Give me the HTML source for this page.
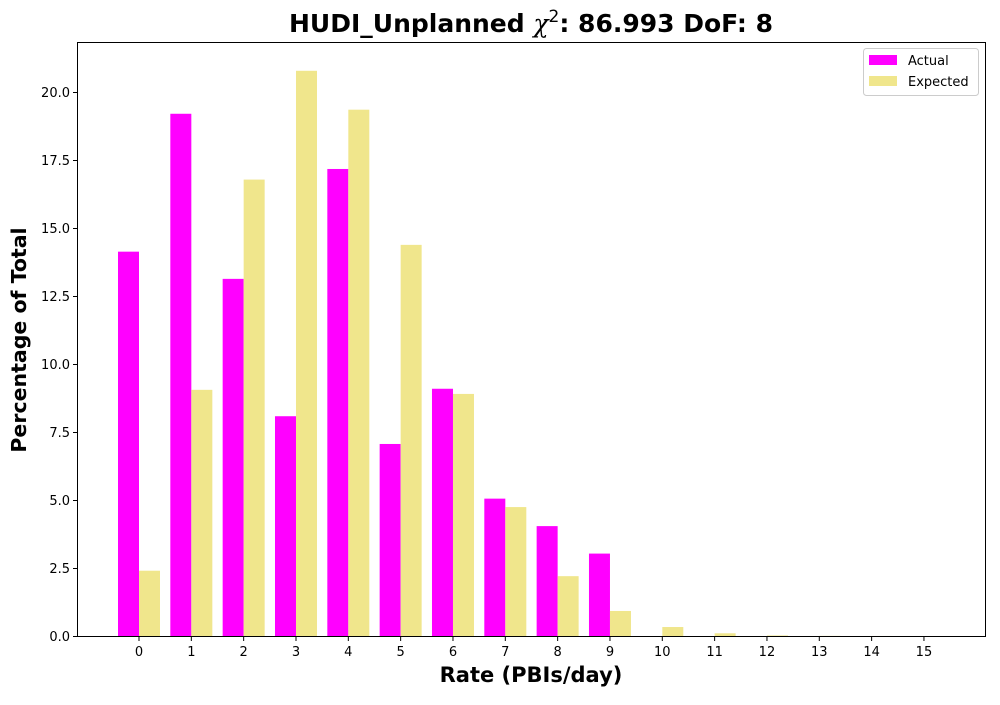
<!DOCTYPE html>
<html><head><meta charset="utf-8"><style>
body{margin:0;background:#fff;font-family:"Liberation Sans","DejaVu Sans",sans-serif;}
svg text{font-family:"DejaVu Sans","Liberation Sans",sans-serif;}
</style></head><body>
<svg id="chart" width="1000" height="700" xmlns="http://www.w3.org/2000/svg">
<text x="531" y="32" text-anchor="middle" font-size="25" font-weight="bold">HUDI_Unplanned <tspan font-style="italic" font-weight="normal" font-family="DejaVu Serif, serif">χ</tspan><tspan dy="-10" font-size="17" font-weight="normal">2</tspan><tspan dy="10">: 86.993 DoF: 8</tspan></text>
<g id="bars"></g>
<rect x="77.5" y="42.5" width="908" height="594" fill="none" stroke="#000" stroke-width="1"/>
<g id="axes"></g>
<text x="531" y="682" text-anchor="middle" font-size="21" font-weight="bold">Rate (PBIs/day)</text>
<text transform="translate(26,340) rotate(-90)" text-anchor="middle" font-size="20.5" font-weight="bold">Percentage of Total</text>
<g>
<rect x="863.5" y="48.5" width="115" height="47" rx="3" fill="#fff" stroke="#ccc"/>
<rect x="869" y="55" width="28" height="10" fill="#ff00ff"/>
<text x="908" y="65" font-size="13">Actual</text>
<rect x="869" y="76" width="28" height="10" fill="#f0e68c"/>
<text x="908" y="86" font-size="13">Expected</text>
</g>
</svg>
<script>
const categories=[0,1,2,3,4,5,6,7,8,9,10,11,12,13,14,15];
const actualValues=[14.13,19.2,13.13,8.08,17.17,7.06,9.09,5.05,4.04,3.03,0,0,0,0,0,0];
const expectedValues=[2.4,9.05,16.78,20.78,19.35,14.38,8.9,4.74,2.2,0.92,0.33,0.1,0.02,0.005,0.001,0];
const yTicks=[0,2.5,5,7.5,10,12.5,15,17.5,20];
const yTickLabels=["0.0","2.5","5.0","7.5","10.0","12.5","15.0","17.5","20.0"];
const ns="http://www.w3.org/2000/svg";
function xScale(c){return 139+c*52.33;}
function yScale(v){return 636-v*27.2;}
const bw=21;
const bars=document.getElementById('bars');
const axes=document.getElementById('axes');
function mk(tag,attrs,parent){const e=document.createElementNS(ns,tag);for(const k in attrs)e.setAttribute(k,attrs[k]);parent.appendChild(e);return e;}
categories.forEach((c,i)=>{
  const a=mk('rect',{x:xScale(c)-bw,y:yScale(actualValues[i]),width:bw,height:636-yScale(actualValues[i]),fill:'#ff00ff'},bars);
  
  
  const e=mk('rect',{x:xScale(c),y:yScale(expectedValues[i]),width:bw,height:636-yScale(expectedValues[i]),fill:'#f0e68c'},bars);
  
  
  const t=mk('line',{x1:xScale(c),x2:xScale(c),y1:636.5,y2:641,stroke:'#000'},axes);
  
  
  const l=mk('text',{x:xScale(c),y:656,'text-anchor':'middle','font-size':13},axes);
  l.textContent=c;
  
  
});
yTicks.forEach((v,i)=>{
  const t=mk('line',{x1:73,x2:77.5,y1:yScale(v)+0.5,y2:yScale(v)+0.5,stroke:'#000'},axes);
  
  
  const l=mk('text',{x:70,y:yScale(v)+5,'text-anchor':'end','font-size':13},axes);
  l.textContent=yTickLabels[i];
  
  
});
</script>
</body></html>
